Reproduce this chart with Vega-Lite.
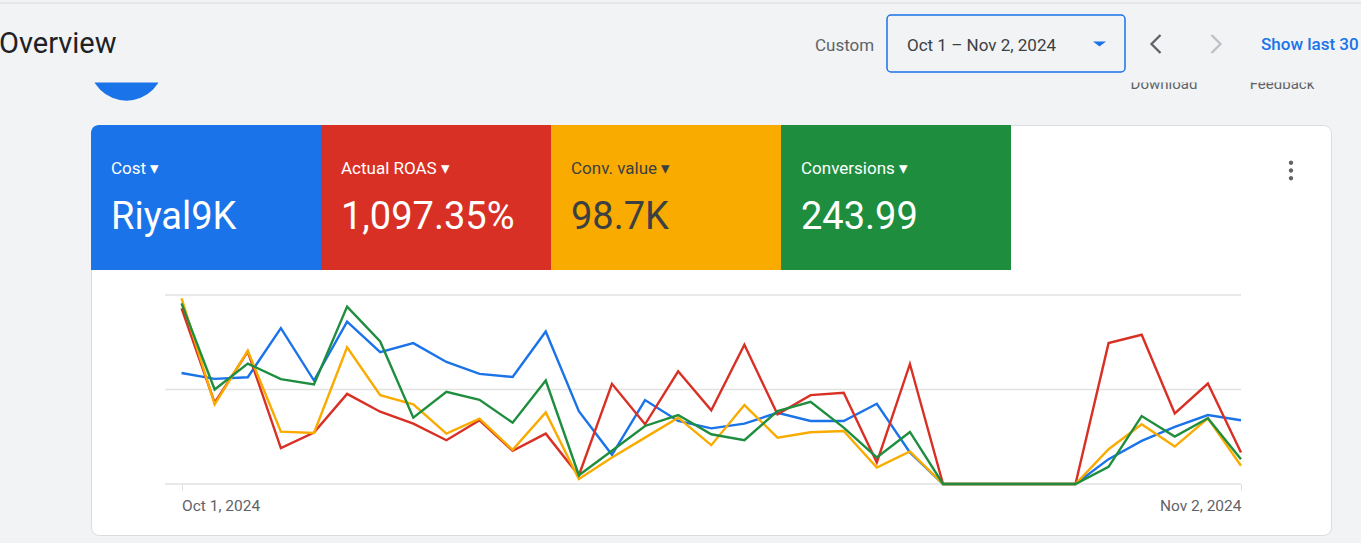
{
  "$schema": "https://vega.github.io/schema/vega-lite/v6.json",
  "width": 1240,
  "height": 410,
  "autosize": "none",
  "padding": {"left": 91, "top": 125, "right": 30, "bottom": 8},
  "background": "#f1f3f4",
  "view": {"fill": "#ffffff", "stroke": "#dadce0", "cornerRadius": 8},
  "config": {"font": "Roboto"},
  "resolve": {
    "scale": {"x": "independent", "y": "independent", "color": "independent", "shape": "independent"},
    "axis": {"x": "independent", "y": "independent"}
  },
  "layer": [
    {
      "data": {"values": [{"part": "create"}]},
      "mark": {"type": "point", "filled": true, "shape": "circle", "size": 5535, "color": "#1a73e8", "opacity": 1, "strokeWidth": 0},
      "encoding": {
        "x": {"field": "part", "type": "nominal", "scale": {"type": "point", "range": [35.5, 35.5]}, "axis": null},
        "y": {"field": "part", "type": "nominal", "scale": {"type": "point", "range": [-61.5, -61.5]}, "axis": null}
      }
    },
    {
      "data": {"values": [{"action": "Download"}, {"action": "Feedback"}]},
      "mark": {"type": "text", "align": "center", "baseline": "alphabetic", "fontSize": 15, "color": "#5f6368"},
      "encoding": {
        "x": {"field": "action", "type": "nominal", "scale": {"type": "point", "domain": ["Download", "Feedback"], "range": [1073, 1191], "padding": 0}, "axis": null},
        "y": {"field": "action", "type": "nominal", "scale": {"type": "point", "range": [-36.5, -36.5]}, "axis": null},
        "text": {"field": "action"}
      }
    },
    {
      "data": {"values": [{"band": "header"}]},
      "mark": {"type": "rect", "color": "#f1f3f4"},
      "encoding": {
        "x": {"field": "band", "type": "nominal", "scale": {"type": "band", "range": [-91, 1270], "paddingInner": 0, "paddingOuter": 0}, "axis": null},
        "y": {"field": "band", "type": "nominal", "scale": {"type": "band", "range": [-121.5, -42.5], "paddingInner": 0, "paddingOuter": 0}, "axis": null}
      }
    },
    {
      "data": {"values": [{"band": "top edge"}]},
      "mark": {"type": "rect", "color": "#dadce0"},
      "encoding": {
        "x": {"field": "band", "type": "nominal", "scale": {"type": "band", "range": [-91, 1270], "paddingInner": 0, "paddingOuter": 0}, "axis": null},
        "y": {"field": "band", "type": "nominal", "scale": {"type": "band", "range": [-122.5, -121.5], "paddingInner": 0, "paddingOuter": 0}, "axis": null}
      }
    },
    {
      "data": {"values": [{"label": "Overview"}]},
      "mark": {"type": "text", "align": "left", "baseline": "alphabetic", "fontSize": 29, "color": "#202124"},
      "encoding": {
        "x": {"field": "label", "type": "nominal", "scale": {"type": "point", "range": [-92, -92]}, "axis": null},
        "y": {"field": "label", "type": "nominal", "scale": {"type": "point", "range": [-72, -72]}, "axis": null},
        "text": {"field": "label"}
      }
    },
    {
      "data": {"values": [{"label": "Custom"}]},
      "mark": {"type": "text", "align": "left", "baseline": "alphabetic", "fontSize": 17, "color": "#5f6368"},
      "encoding": {
        "x": {"field": "label", "type": "nominal", "scale": {"type": "point", "range": [724, 724]}, "axis": null},
        "y": {"field": "label", "type": "nominal", "scale": {"type": "point", "range": [-74.5, -74.5]}, "axis": null},
        "text": {"field": "label"}
      }
    },
    {
      "data": {"values": [{"control": "date range"}]},
      "mark": {"type": "rect", "filled": false, "color": "#1a73e8", "strokeWidth": 1.5, "cornerRadius": 4},
      "encoding": {
        "x": {"field": "control", "type": "nominal", "scale": {"type": "band", "range": [796, 1034], "paddingInner": 0, "paddingOuter": 0}, "axis": null},
        "y": {"field": "control", "type": "nominal", "scale": {"type": "band", "range": [-110, -53], "paddingInner": 0, "paddingOuter": 0}, "axis": null}
      }
    },
    {
      "data": {"values": [{"label": "Oct 1 – Nov 2, 2024"}]},
      "mark": {"type": "text", "align": "left", "baseline": "alphabetic", "fontSize": 17, "color": "#3c4043"},
      "encoding": {
        "x": {"field": "label", "type": "nominal", "scale": {"type": "point", "range": [816, 816]}, "axis": null},
        "y": {"field": "label", "type": "nominal", "scale": {"type": "point", "range": [-74.5, -74.5]}, "axis": null},
        "text": {"field": "label"}
      }
    },
    {
      "data": {"values": [{"control": "open menu"}]},
      "mark": {"type": "point", "filled": true, "shape": "M-1,-0.4L1,-0.4L0,0.4Z", "size": 169, "color": "#1a73e8", "opacity": 1, "strokeWidth": 0},
      "encoding": {
        "x": {"field": "control", "type": "nominal", "scale": {"type": "point", "range": [1008.5, 1008.5]}, "axis": null},
        "y": {"field": "control", "type": "nominal", "scale": {"type": "point", "range": [-81, -81]}, "axis": null}
      }
    },
    {
      "data": {"values": [{"step": "previous"}, {"step": "next"}]},
      "mark": {"type": "point", "filled": false, "size": 400, "strokeWidth": 2.3, "opacity": 1},
      "encoding": {
        "x": {"field": "step", "type": "nominal", "scale": {"type": "point", "domain": ["previous", "next"], "range": [1065, 1125], "padding": 0}, "axis": null},
        "y": {"field": "step", "type": "nominal", "scale": {"type": "point", "range": [-81, -81]}, "axis": null},
        "shape": {"field": "step", "type": "nominal", "scale": {"domain": ["previous", "next"], "range": ["M0.45,-0.9L-0.45,0L0.45,0.9", "M-0.45,-0.9L0.45,0L-0.45,0.9"]}, "legend": null},
        "color": {"field": "step", "type": "nominal", "scale": {"domain": ["previous", "next"], "range": ["#5f6368", "#bdc1c6"]}, "legend": null}
      }
    },
    {
      "data": {"values": [{"label": "Show last 30"}]},
      "mark": {"type": "text", "align": "left", "baseline": "alphabetic", "fontSize": 17, "fontWeight": 500, "color": "#1a73e8"},
      "encoding": {
        "x": {"field": "label", "type": "nominal", "scale": {"type": "point", "range": [1170, 1170]}, "axis": null},
        "y": {"field": "label", "type": "nominal", "scale": {"type": "point", "range": [-75.5, -75.5]}, "axis": null},
        "text": {"field": "label"}
      }
    },
    {
      "data": {"values": [{"control": "more options"}]},
      "mark": {"type": "point", "filled": true, "size": 400, "color": "#5f6368", "opacity": 1, "strokeWidth": 0,
        "shape": "M-0.22,-0.78A0.22,0.22,0,1,0,0.22,-0.78A0.22,0.22,0,1,0,-0.22,-0.78ZM-0.22,0A0.22,0.22,0,1,0,0.22,0A0.22,0.22,0,1,0,-0.22,0ZM-0.22,0.78A0.22,0.22,0,1,0,0.22,0.78A0.22,0.22,0,1,0,-0.22,0.78Z"},
      "encoding": {
        "x": {"field": "control", "type": "nominal", "scale": {"type": "point", "range": [1200, 1200]}, "axis": null},
        "y": {"field": "control", "type": "nominal", "scale": {"type": "point", "range": [45.5, 45.5]}, "axis": null}
      }
    },
    {
      "data": {"values": [
        {"metric": "Cost", "total": "Riyal9K", "panel": "summary"},
        {"metric": "Actual ROAS", "total": "1,097.35%", "panel": "summary"},
        {"metric": "Conv. value", "total": "98.7K", "panel": "summary"},
        {"metric": "Conversions", "total": "243.99", "panel": "summary"}
      ]},
      "layer": [
        {
          "mark": {"type": "rect", "cornerRadiusTopLeft": {"expr": "datum.metric === 'Cost' ? 8 : 0"}},
          "encoding": {
            "x": {"field": "metric", "type": "nominal", "scale": {"type": "band", "domain": ["Cost", "Actual ROAS", "Conv. value", "Conversions"], "range": [0, 920], "paddingInner": 0, "paddingOuter": 0}, "axis": null},
            "y": {"field": "panel", "type": "nominal", "scale": {"type": "band", "range": [0, 145], "paddingInner": 0, "paddingOuter": 0}, "axis": null},
            "color": {"field": "metric", "type": "nominal", "scale": {"domain": ["Cost", "Actual ROAS", "Conv. value", "Conversions"], "range": ["#1a73e8", "#d93025", "#f9ab00", "#1e8e3e"]}, "legend": null}
          }
        },
        {
          "mark": {"type": "text", "align": "left", "baseline": "alphabetic", "dx": 20, "fontSize": 17, "text": {"expr": "datum.metric + '  ▾'"}},
          "encoding": {
            "x": {"field": "metric", "type": "nominal", "bandPosition": 0, "axis": null},
            "y": {"field": "panel", "type": "nominal", "bandPosition": 0.338, "axis": null},
            "color": {"condition": {"test": "datum.metric === 'Conv. value'", "value": "#3c4043"}, "value": "#ffffff"}
          }
        },
        {
          "mark": {"type": "text", "align": "left", "baseline": "alphabetic", "dx": 20, "fontSize": 38},
          "encoding": {
            "x": {"field": "metric", "type": "nominal", "bandPosition": 0, "axis": null},
            "y": {"field": "panel", "type": "nominal", "bandPosition": 0.717, "axis": null},
            "text": {"field": "total"},
            "color": {"condition": {"test": "datum.metric === 'Conv. value'", "value": "#3c4043"}, "value": "#ffffff"}
          }
        }
      ]
    },
    {
      "layer": [
        {
          "data": {"values": [{"level": 0}, {"level": 1}, {"level": 2}]},
          "mark": {"type": "rule", "color": "#e2e2e2", "strokeWidth": 1.5},
          "encoding": {
            "y": {"field": "level", "type": "quantitative", "axis": null},
            "x": {"datum": {"year": 2024, "month": 9, "date": 30, "hours": 12, "utc": true}, "type": "temporal", "scale": {"type": "utc"}},
            "x2": {"datum": {"year": 2024, "month": 11, "date": 2, "utc": true}}
          }
        },
        {
          "data": {"values": [
            {"date": "2024-10-01", "metric": "Cost", "value": 1.175},
            {"date": "2024-10-02", "metric": "Cost", "value": 1.112},
            {"date": "2024-10-03", "metric": "Cost", "value": 1.13},
            {"date": "2024-10-04", "metric": "Cost", "value": 1.649},
            {"date": "2024-10-05", "metric": "Cost", "value": 1.095},
            {"date": "2024-10-06", "metric": "Cost", "value": 1.719},
            {"date": "2024-10-07", "metric": "Cost", "value": 1.396},
            {"date": "2024-10-08", "metric": "Cost", "value": 1.491},
            {"date": "2024-10-09", "metric": "Cost", "value": 1.291},
            {"date": "2024-10-10", "metric": "Cost", "value": 1.165},
            {"date": "2024-10-11", "metric": "Cost", "value": 1.133},
            {"date": "2024-10-12", "metric": "Cost", "value": 1.614},
            {"date": "2024-10-13", "metric": "Cost", "value": 0.77},
            {"date": "2024-10-14", "metric": "Cost", "value": 0.309},
            {"date": "2024-10-15", "metric": "Cost", "value": 0.888},
            {"date": "2024-10-16", "metric": "Cost", "value": 0.667},
            {"date": "2024-10-17", "metric": "Cost", "value": 0.589},
            {"date": "2024-10-18", "metric": "Cost", "value": 0.639},
            {"date": "2024-10-19", "metric": "Cost", "value": 0.754},
            {"date": "2024-10-20", "metric": "Cost", "value": 0.667},
            {"date": "2024-10-21", "metric": "Cost", "value": 0.667},
            {"date": "2024-10-22", "metric": "Cost", "value": 0.849},
            {"date": "2024-10-23", "metric": "Cost", "value": 0.333},
            {"date": "2024-10-24", "metric": "Cost", "value": 0},
            {"date": "2024-10-25", "metric": "Cost", "value": 0},
            {"date": "2024-10-26", "metric": "Cost", "value": 0},
            {"date": "2024-10-27", "metric": "Cost", "value": 0},
            {"date": "2024-10-28", "metric": "Cost", "value": 0},
            {"date": "2024-10-29", "metric": "Cost", "value": 0.263},
            {"date": "2024-10-30", "metric": "Cost", "value": 0.456},
            {"date": "2024-10-31", "metric": "Cost", "value": 0.604},
            {"date": "2024-11-01", "metric": "Cost", "value": 0.73},
            {"date": "2024-11-02", "metric": "Cost", "value": 0.674},
            {"date": "2024-10-01", "metric": "Actual ROAS", "value": 1.86},
            {"date": "2024-10-02", "metric": "Actual ROAS", "value": 0.86},
            {"date": "2024-10-03", "metric": "Actual ROAS", "value": 1.4},
            {"date": "2024-10-04", "metric": "Actual ROAS", "value": 0.379},
            {"date": "2024-10-05", "metric": "Actual ROAS", "value": 0.544},
            {"date": "2024-10-06", "metric": "Actual ROAS", "value": 0.954},
            {"date": "2024-10-07", "metric": "Actual ROAS", "value": 0.765},
            {"date": "2024-10-08", "metric": "Actual ROAS", "value": 0.639},
            {"date": "2024-10-09", "metric": "Actual ROAS", "value": 0.463},
            {"date": "2024-10-10", "metric": "Actual ROAS", "value": 0.674},
            {"date": "2024-10-11", "metric": "Actual ROAS", "value": 0.351},
            {"date": "2024-10-12", "metric": "Actual ROAS", "value": 0.533},
            {"date": "2024-10-13", "metric": "Actual ROAS", "value": 0.09},
            {"date": "2024-10-14", "metric": "Actual ROAS", "value": 1.06},
            {"date": "2024-10-15", "metric": "Actual ROAS", "value": 0.632},
            {"date": "2024-10-16", "metric": "Actual ROAS", "value": 1.193},
            {"date": "2024-10-17", "metric": "Actual ROAS", "value": 0.779},
            {"date": "2024-10-18", "metric": "Actual ROAS", "value": 1.474},
            {"date": "2024-10-19", "metric": "Actual ROAS", "value": 0.737},
            {"date": "2024-10-20", "metric": "Actual ROAS", "value": 0.94},
            {"date": "2024-10-21", "metric": "Actual ROAS", "value": 0.965},
            {"date": "2024-10-22", "metric": "Actual ROAS", "value": 0.228},
            {"date": "2024-10-23", "metric": "Actual ROAS", "value": 1.27},
            {"date": "2024-10-24", "metric": "Actual ROAS", "value": 0},
            {"date": "2024-10-25", "metric": "Actual ROAS", "value": 0},
            {"date": "2024-10-26", "metric": "Actual ROAS", "value": 0},
            {"date": "2024-10-27", "metric": "Actual ROAS", "value": 0},
            {"date": "2024-10-28", "metric": "Actual ROAS", "value": 0},
            {"date": "2024-10-29", "metric": "Actual ROAS", "value": 1.491},
            {"date": "2024-10-30", "metric": "Actual ROAS", "value": 1.579},
            {"date": "2024-10-31", "metric": "Actual ROAS", "value": 0.747},
            {"date": "2024-11-01", "metric": "Actual ROAS", "value": 1.063},
            {"date": "2024-11-02", "metric": "Actual ROAS", "value": 0.333},
            {"date": "2024-10-01", "metric": "Conv. value", "value": 1.965},
            {"date": "2024-10-02", "metric": "Conv. value", "value": 0.842},
            {"date": "2024-10-03", "metric": "Conv. value", "value": 1.41},
            {"date": "2024-10-04", "metric": "Conv. value", "value": 0.554},
            {"date": "2024-10-05", "metric": "Conv. value", "value": 0.54},
            {"date": "2024-10-06", "metric": "Conv. value", "value": 1.446},
            {"date": "2024-10-07", "metric": "Conv. value", "value": 0.94},
            {"date": "2024-10-08", "metric": "Conv. value", "value": 0.842},
            {"date": "2024-10-09", "metric": "Conv. value", "value": 0.533},
            {"date": "2024-10-10", "metric": "Conv. value", "value": 0.691},
            {"date": "2024-10-11", "metric": "Conv. value", "value": 0.361},
            {"date": "2024-10-12", "metric": "Conv. value", "value": 0.758},
            {"date": "2024-10-13", "metric": "Conv. value", "value": 0.053},
            {"date": "2024-10-14", "metric": "Conv. value", "value": 0.281},
            {"date": "2024-10-15", "metric": "Conv. value", "value": 0.491},
            {"date": "2024-10-16", "metric": "Conv. value", "value": 0.702},
            {"date": "2024-10-17", "metric": "Conv. value", "value": 0.411},
            {"date": "2024-10-18", "metric": "Conv. value", "value": 0.835},
            {"date": "2024-10-19", "metric": "Conv. value", "value": 0.491},
            {"date": "2024-10-20", "metric": "Conv. value", "value": 0.547},
            {"date": "2024-10-21", "metric": "Conv. value", "value": 0.561},
            {"date": "2024-10-22", "metric": "Conv. value", "value": 0.175},
            {"date": "2024-10-23", "metric": "Conv. value", "value": 0.344},
            {"date": "2024-10-24", "metric": "Conv. value", "value": 0},
            {"date": "2024-10-25", "metric": "Conv. value", "value": 0},
            {"date": "2024-10-26", "metric": "Conv. value", "value": 0},
            {"date": "2024-10-27", "metric": "Conv. value", "value": 0},
            {"date": "2024-10-28", "metric": "Conv. value", "value": 0},
            {"date": "2024-10-29", "metric": "Conv. value", "value": 0.368},
            {"date": "2024-10-30", "metric": "Conv. value", "value": 0.632},
            {"date": "2024-10-31", "metric": "Conv. value", "value": 0.396},
            {"date": "2024-11-01", "metric": "Conv. value", "value": 0.695},
            {"date": "2024-11-02", "metric": "Conv. value", "value": 0.193},
            {"date": "2024-10-01", "metric": "Conversions", "value": 1.912},
            {"date": "2024-10-02", "metric": "Conversions", "value": 1.0},
            {"date": "2024-10-03", "metric": "Conversions", "value": 1.274},
            {"date": "2024-10-04", "metric": "Conversions", "value": 1.109},
            {"date": "2024-10-05", "metric": "Conversions", "value": 1.053},
            {"date": "2024-10-06", "metric": "Conversions", "value": 1.877},
            {"date": "2024-10-07", "metric": "Conversions", "value": 1.509},
            {"date": "2024-10-08", "metric": "Conversions", "value": 0.702},
            {"date": "2024-10-09", "metric": "Conversions", "value": 0.975},
            {"date": "2024-10-10", "metric": "Conversions", "value": 0.891},
            {"date": "2024-10-11", "metric": "Conversions", "value": 0.649},
            {"date": "2024-10-12", "metric": "Conversions", "value": 1.095},
            {"date": "2024-10-13", "metric": "Conversions", "value": 0.093},
            {"date": "2024-10-14", "metric": "Conversions", "value": 0.351},
            {"date": "2024-10-15", "metric": "Conversions", "value": 0.614},
            {"date": "2024-10-16", "metric": "Conversions", "value": 0.73},
            {"date": "2024-10-17", "metric": "Conversions", "value": 0.526},
            {"date": "2024-10-18", "metric": "Conversions", "value": 0.463},
            {"date": "2024-10-19", "metric": "Conversions", "value": 0.772},
            {"date": "2024-10-20", "metric": "Conversions", "value": 0.87},
            {"date": "2024-10-21", "metric": "Conversions", "value": 0.596},
            {"date": "2024-10-22", "metric": "Conversions", "value": 0.281},
            {"date": "2024-10-23", "metric": "Conversions", "value": 0.551},
            {"date": "2024-10-24", "metric": "Conversions", "value": 0},
            {"date": "2024-10-25", "metric": "Conversions", "value": 0},
            {"date": "2024-10-26", "metric": "Conversions", "value": 0},
            {"date": "2024-10-27", "metric": "Conversions", "value": 0},
            {"date": "2024-10-28", "metric": "Conversions", "value": 0},
            {"date": "2024-10-29", "metric": "Conversions", "value": 0.182},
            {"date": "2024-10-30", "metric": "Conversions", "value": 0.719},
            {"date": "2024-10-31", "metric": "Conversions", "value": 0.502},
            {"date": "2024-11-01", "metric": "Conversions", "value": 0.695},
            {"date": "2024-11-02", "metric": "Conversions", "value": 0.263}
          ]},
          "mark": {"type": "line", "strokeWidth": 2.4},
          "encoding": {
            "x": {
              "field": "date", "type": "temporal",
              "scale": {"type": "utc", "domain": [{"year": 2024, "month": 9, "date": 30, "hours": 12, "utc": true}, {"year": 2024, "month": 11, "date": 2, "utc": true}], "range": [74, 1150]},
              "axis": {
                "values": [{"year": 2024, "month": 10, "date": 1, "utc": true}, {"year": 2024, "month": 11, "date": 2, "utc": true}],
                "format": "%b %-d, %Y", "title": null, "grid": false, "domain": false,
                "ticks": true, "tickColor": "#dadce0", "tickSize": 6, "tickWidth": 1,
                "labelFont": "Roboto", "labelFontSize": 15.5, "labelColor": "#5f6368",
                "labelFlush": 20, "labelPadding": 8, "offset": -51
              }
            },
            "y": {"field": "value", "type": "quantitative", "scale": {"domain": [0, 2], "range": [359, 170], "nice": false, "zero": false}, "axis": null},
            "color": {"field": "metric", "type": "nominal", "sort": null, "scale": {"domain": ["Cost", "Actual ROAS", "Conv. value", "Conversions"], "range": ["#1a73e8", "#d93025", "#f9ab00", "#1e8e3e"]}, "legend": null}
          }
        }
      ]
    }
  ]
}
